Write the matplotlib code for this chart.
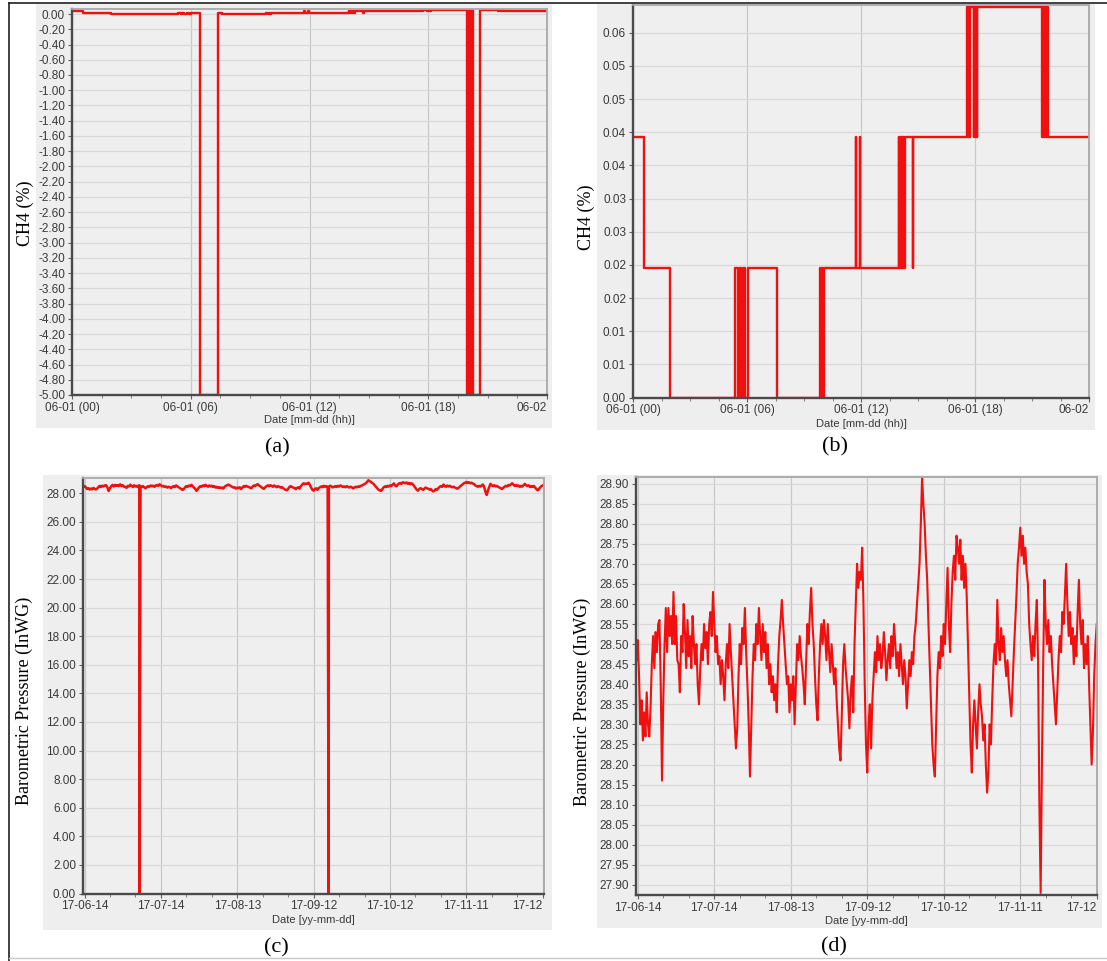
import numpy as np
import matplotlib
matplotlib.use("Agg")
import matplotlib.pyplot as plt
from matplotlib.patches import Rectangle
from matplotlib.lines import Line2D

plt.rcParams["font.family"] = ["Liberation Sans", "DejaVu Sans"]

# ---------------------------------------------------------------------------
# CH4 on 06-01: step changes (hour of day -> value in %); -5.0 = sensor error
# ---------------------------------------------------------------------------
ch4_hours = [0.00, 0.56, 1.97, 5.38, 5.50, 5.58, 5.66, 5.80, 5.90, 6.03,
             6.47, 7.37, 7.60, 9.82, 9.90, 9.95, 10.00, 10.03,
             11.73, 11.75, 11.94, 11.96,
             13.98, 14.02, 14.06, 14.10, 14.14, 14.18, 14.22, 14.26, 14.30,
             14.72, 14.76,
             17.58, 17.62, 17.66, 17.70, 17.74, 17.93, 17.97, 18.01, 18.05,
             18.09, 18.13,
             19.95, 20.00, 20.05, 20.10, 20.15, 20.20, 20.26, 20.60,
             21.53, 21.57, 21.62, 21.67, 21.72, 21.77, 21.84, 24.00]
ch4_pct = [0.0393, 0.0196, 0.0000, 0.0196, 0.0000, 0.0196, 0.0000, 0.0196, 0.0000, 0.0196,
           -5.0, 0.0196, 0.0000, 0.0196, 0.0000, 0.0196, 0.0000, 0.0196,
           0.0393, 0.0196, 0.0393, 0.0196,
           0.0393, 0.0196, 0.0393, 0.0196, 0.0393, 0.0196, 0.0393, 0.0196, 0.0393,
           0.0196, 0.0393,
           0.0589, 0.0393, 0.0589, 0.0393, 0.0589, 0.0393, 0.0589, 0.0393, 0.0589,
           0.0393, 0.0589,
           -5.0, 0.0589, -5.0, 0.0589, -5.0, 0.0589, -5.0, 0.0589,
           0.0393, 0.0589, 0.0393, 0.0589, 0.0393, 0.0589, 0.0393, 0.0393]
ch4_error_value = -5.0

hour_ticks = [0, 6, 12, 18, 24]
hour_labels = ["06-01 (00)", "06-01 (06)", "06-01 (12)", "06-01 (18)", "06-02"]

ch4_full_ticks = [-5.0, -4.8, -4.6, -4.4, -4.2, -4.0, -3.8, -3.6, -3.4, -3.2,
                  -3.0, -2.8, -2.6, -2.4, -2.2, -2.0, -1.8, -1.6, -1.4, -1.2,
                  -1.0, -0.8, -0.6, -0.4, -0.2, 0.0]
ch4_zoom_ticks = [0.000, 0.005, 0.010, 0.015, 0.020, 0.025, 0.030, 0.035,
                  0.040, 0.045, 0.050, 0.055]
ch4_zoom_labels = ["0.00", "0.01", "0.01", "0.02", "0.02", "0.03", "0.03",
                   "0.04", "0.04", "0.05", "0.05", "0.06"]

# ---------------------------------------------------------------------------
# Barometric pressure (InWG), twice a day, days counted from 17-06-14
# ---------------------------------------------------------------------------
baro_days = np.arange(-0.5, 180.01, 0.5)
baro_inwg = [
    28.46, 28.51, 28.42, 28.30, 28.36, 28.26, 28.33, 28.27, 28.38, 28.30, 28.27,
    28.34, 28.45, 28.52, 28.44, 28.53, 28.48, 28.55, 28.56, 28.40, 28.16,
    28.36, 28.50, 28.59, 28.48, 28.59, 28.52, 28.57, 28.50, 28.63, 28.50,
    28.57, 28.46, 28.45, 28.38, 28.52, 28.48, 28.60, 28.53, 28.44, 28.56,
    28.47, 28.52, 28.44, 28.57, 28.50, 28.45, 28.50, 28.40, 28.35, 28.44,
    28.50, 28.46, 28.55, 28.49, 28.53, 28.45, 28.55, 28.58, 28.52, 28.63,
    28.55, 28.48, 28.52, 28.45, 28.47, 28.40, 28.46, 28.42, 28.36, 28.45,
    28.50, 28.44, 28.55, 28.48, 28.42, 28.36, 28.30, 28.24, 28.29, 28.42,
    28.50, 28.45, 28.54, 28.50, 28.59, 28.48, 28.40, 28.30, 28.17, 28.30,
    28.42, 28.50, 28.46, 28.55, 28.50, 28.59, 28.52, 28.46, 28.55, 28.48,
    28.53, 28.44, 28.50, 28.40, 28.45, 28.38, 28.42, 28.36, 28.40, 28.33,
    28.45, 28.52, 28.56, 28.61, 28.55, 28.50, 28.45, 28.40, 28.42, 28.33,
    28.40, 28.36, 28.42, 28.30, 28.40, 28.50, 28.46, 28.52, 28.47, 28.44,
    28.40, 28.35, 28.45, 28.55, 28.50, 28.58, 28.64, 28.55, 28.50, 28.42,
    28.35, 28.31, 28.42, 28.50, 28.55, 28.50, 28.56, 28.52, 28.46, 28.55,
    28.48, 28.43, 28.50, 28.45, 28.40, 28.44, 28.36, 28.30, 28.24, 28.21,
    28.32, 28.45, 28.50, 28.44, 28.40, 28.36, 28.29, 28.38, 28.42, 28.33,
    28.50, 28.60, 28.70, 28.64, 28.68, 28.66, 28.74, 28.60, 28.40, 28.25,
    28.18, 28.30, 28.35, 28.24, 28.36, 28.42, 28.48, 28.43, 28.52, 28.46,
    28.50, 28.44, 28.47, 28.53, 28.48, 28.41, 28.46, 28.50, 28.44, 28.52,
    28.47, 28.55, 28.50, 28.44, 28.48, 28.42, 28.50, 28.45, 28.40, 28.46,
    28.42, 28.34, 28.40, 28.46, 28.42, 28.48, 28.45, 28.52, 28.55, 28.60,
    28.65, 28.70, 28.80, 28.915, 28.85, 28.80, 28.72, 28.66, 28.55, 28.45,
    28.35, 28.25, 28.20, 28.17, 28.30, 28.42, 28.48, 28.44, 28.52, 28.47,
    28.55, 28.50, 28.60, 28.69, 28.55, 28.48, 28.60, 28.68, 28.72, 28.66,
    28.77, 28.74, 28.70, 28.76, 28.66, 28.72, 28.64, 28.70, 28.62, 28.50,
    28.38, 28.25, 28.18, 28.30, 28.36, 28.30, 28.24, 28.33, 28.40, 28.35,
    28.32, 28.26, 28.30, 28.20, 28.13, 28.18, 28.30, 28.25, 28.36, 28.45,
    28.50, 28.45, 28.61, 28.50, 28.46, 28.54, 28.48, 28.52, 28.46, 28.42,
    28.46, 28.40, 28.36, 28.32, 28.40, 28.48, 28.55, 28.62, 28.70, 28.74,
    28.79, 28.72, 28.77, 28.70, 28.74, 28.68, 28.65, 28.55, 28.50, 28.46,
    28.52, 28.47, 28.55, 28.61, 28.45, 28.10, 27.88, 28.20, 28.45, 28.66,
    28.55, 28.50, 28.56, 28.48, 28.52, 28.45, 28.40, 28.35, 28.30, 28.38,
    28.46, 28.52, 28.48, 28.58, 28.55, 28.62, 28.70, 28.60, 28.52, 28.58,
    28.50, 28.54, 28.45, 28.52, 28.47, 28.58, 28.66, 28.55, 28.50, 28.56,
    28.44, 28.50, 28.45, 28.52, 28.40, 28.30, 28.20, 28.28, 28.42, 28.50, 28.55,
]
# logger dropouts recorded as 0.00
dropout_days = [21.6, 95.9]
dropout_inwg = [0.0, 0.0]

day_ticks = [0, 30, 60, 90, 120, 150, 180]
day_labels = ["17-06-14", "17-07-14", "17-08-13", "17-09-12", "17-10-12",
              "17-11-11", "17-12"]
baro_full_ticks = [0, 2, 4, 6, 8, 10, 12, 14, 16, 18, 20, 22, 24, 26, 28]
baro_zoom_ticks = [27.90, 27.95, 28.00, 28.05, 28.10, 28.15, 28.20, 28.25,
                   28.30, 28.35, 28.40, 28.45, 28.50, 28.55, 28.60, 28.65,
                   28.70, 28.75, 28.80, 28.85, 28.90]

# ---------------------------------------------------------------------------
W, H = 1107, 961
RED = "#f01010"
fig = plt.figure(figsize=(W / 100, H / 100), dpi=100)


def frect(x0, y0, x1, y1):
    return [x0 / W, 1 - y1 / H, (x1 - x0) / W, (y1 - y0) / H]


def panel_bg(x0, y0, x1, y1):
    r = frect(x0, y0, x1, y1)
    fig.add_artist(Rectangle((r[0], r[1]), r[2], r[3], transform=fig.transFigure,
                             facecolor="#eeeeee", edgecolor="none", zorder=-5))


def style(ax, xticks, xlabels, yticks, ylabels, xlim, ylim, minor_x,
          xlabel, label_y_px, box):
    ax.set_facecolor("#efefef")
    ax.set_xlim(*xlim)
    ax.set_ylim(*ylim)
    ax.set_xticks(xticks)
    ax.set_xticklabels(xlabels)
    ax.set_yticks(yticks)
    ax.set_yticklabels(ylabels)
    ax.set_xticks(minor_x, minor=True)
    ax.get_xticklabels()[-1].set_ha("right")
    for s in ("left", "bottom"):
        ax.spines[s].set_color("#4a4a4a")
        ax.spines[s].set_linewidth(1.7)
    for s in ("top", "right"):
        ax.spines[s].set_color("#a8a8a8")
        ax.spines[s].set_linewidth(1.3)
    ax.tick_params(axis="both", which="major", labelsize=8.5, colors="#606060",
                   labelcolor="#3a3a3a", length=3, width=0.8, pad=2)
    ax.tick_params(axis="x", which="minor", colors="#808080", length=2, width=0.7)
    ax.xaxis.grid(True, color="#c8c8c8", lw=0.9)
    ax.yaxis.grid(True, color="#d8d8d8", lw=0.9)
    ax.set_axisbelow(True)
    ax.set_xlabel(xlabel, fontsize=8, color="#3a3a3a")
    x0, y0, x1, y1 = box
    ax.xaxis.set_label_coords(0.5, (y1 - label_y_px) / (y1 - y0))
    ax.xaxis.label.set_va("center")


ch4_hours_arr = np.array(ch4_hours)
ch4_pct_arr = np.array(ch4_pct)
valid = ch4_pct_arr != ch4_error_value
minor_hours = [1.5, 3, 4.5, 7.5, 9, 10.5, 13.5, 15, 16.5, 19.5, 21, 22.5]
minor_days = [10, 20, 40, 50, 70, 80, 100, 110, 130, 140, 160, 170]

# (a) CH4 including error readings
box_a = (72, 9, 547, 395)
panel_bg(36, 4, 552, 428)
ax_a = fig.add_axes(frect(*box_a))
ax_a.step(ch4_hours_arr, ch4_pct_arr, where="post", color=RED, lw=1.7)
style(ax_a, hour_ticks, hour_labels, ch4_full_ticks,
      ["%.2f" % v for v in ch4_full_ticks], (0, 24), (-5.0, 0.066),
      minor_hours, "Date [mm-dd (hh)]", 420, box_a)

# (b) CH4 without error readings
box_b = (633, 5, 1089, 397.5)
panel_bg(597, 4, 1095, 430)
ax_b = fig.add_axes(frect(*box_b))
ax_b.step(ch4_hours_arr[valid], ch4_pct_arr[valid], where="post", color=RED, lw=1.7)
style(ax_b, hour_ticks, hour_labels, ch4_zoom_ticks, ch4_zoom_labels,
      (0, 24), (0, 0.0592), minor_hours, "Date [mm-dd (hh)]", 424, box_b)

# (c) barometric pressure including dropouts
all_days = np.concatenate([baro_days, dropout_days])
all_vals = np.concatenate([baro_inwg, dropout_inwg])
order = np.argsort(all_days, kind="stable")
box_c = (83, 478, 544, 893.5)
panel_bg(43, 475, 552, 930)
ax_c = fig.add_axes(frect(*box_c))
ax_c.plot(all_days[order], all_vals[order], color=RED, lw=1.8)
style(ax_c, day_ticks, day_labels, baro_full_ticks,
      ["%.2f" % v for v in baro_full_ticks], (-0.6, 180.5), (0, 29.07),
      minor_days, "Date [yy-mm-dd]", 920, box_c)

# (d) barometric pressure without dropouts
box_d = (636, 476.7, 1097, 895)
panel_bg(597, 475, 1102, 928)
ax_d = fig.add_axes(frect(*box_d))
ax_d.plot(baro_days, baro_inwg, color=RED, lw=1.5)
style(ax_d, day_ticks, day_labels, baro_zoom_ticks,
      ["%.2f" % v for v in baro_zoom_ticks], (-0.7, 180.1), (27.875, 28.917),
      minor_days, "Date [yy-mm-dd]", 921, box_d)

# axis titles and panel captions
serif = "Liberation Serif"
for x, y, txt in [(25, 213, "CH4 (%)"), (586, 217, "CH4 (%)"),
                  (24, 701, "Barometric Pressure (InWG)"),
                  (582, 702, "Barometric Pressure (InWG)")]:
    fig.text(x / W, 1 - y / H, txt, rotation=90, ha="center", va="center",
             fontsize=13, family=serif)
for x, y, txt in [(277, 448, "(a)"), (835, 447, "(b)"),
                  (276, 948, "(c)"), (834, 947, "(d)")]:
    fig.text(x / W, 1 - y / H, txt, ha="center", va="center", fontsize=16,
             family=serif)

# outer frame
fig.add_artist(Line2D([9 / W, 9 / W], [0, 1 - 3 / H], transform=fig.transFigure,
                      color="#202020", lw=1.2))
fig.add_artist(Line2D([9 / W, 1], [1 - 3 / H, 1 - 3 / H], transform=fig.transFigure,
                      color="#202020", lw=1.2))
fig.add_artist(Line2D([9 / W, 1], [1 - 958 / H, 1 - 958 / H],
                      transform=fig.transFigure, color="#c8c8c8", lw=1.0))

fig.savefig("out.png", dpi=100)
